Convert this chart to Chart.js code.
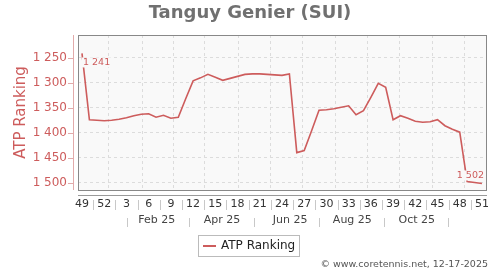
<!DOCTYPE html>
<html>
<head>
<meta charset="utf-8">
<script src="https://cdn.jsdelivr.net/npm/chart.js@4.4.1/dist/chart.umd.min.js"></script>
<style>
  html, body { margin: 0; padding: 0; background: #fff; }
  canvas { display: block; }
</style>
</head>
<body>
<canvas id="rankChart" width="500" height="270"></canvas>
<script>
// Weekly ATP ranking, week 49 of 2024 -> week 51 of 2025 (x = weeks since first point)
const weekIdx = [0, 1, 2, 3, 4, 5, 6, 7, 8, 9, 10, 11, 12, 13, 14, 15, 16, 17, 18, 19, 20,
    21, 22, 23, 24, 25, 26, 27, 28, 29, 30, 31, 32, 33, 34, 35, 36, 37, 38, 39, 40,
    41, 42, 43, 44, 45, 46, 47, 48, 49, 50, 51, 52, 53, 54];
const ranks = [1241, 1374, 1375, 1376, 1375, 1373, 1370, 1366, 1363, 1362, 1369, 1365, 1371, 1369, 1332,
    1296, 1290, 1283, 1289, 1295, 1291, 1287, 1283, 1282, 1282, 1283, 1284, 1285, 1282, 1440,
    1436, 1396, 1355, 1354, 1352, 1349, 1346, 1364, 1356, 1329, 1301, 1309, 1374, 1366, 1371,
    1377, 1379, 1378, 1374, 1386, 1393, 1399, 1498, 1500, 1502];

// Axis labels
const weekTickIdx = [0, 3, 6, 9, 12, 15, 18, 21, 24, 27, 30, 33, 36, 39, 42, 45, 48, 51, 54];
const weekTickLabels = ['49', '52', '3', '6', '9', '12', '15', '18', '21', '24', '27', '30', '33', '36', '39', '42', '45', '48', '51'];
const monthLabelIdx = [10.1, 18.9, 28.1, 36.5, 45.2];
const monthLabels = ['Feb 25', 'Apr 25', 'Jun 25', 'Aug 25', 'Oct 25'];
const monthSepIdx = [6.1, 14.4, 23.2, 32.0, 40.8, 49.4];
const monthGridIdx = [3.6, 8.2, 12.3, 16.6, 21.1, 25.4, 29.8, 34.2, 38.5, 42.8, 47.3, 51.6];
const rankTicks = [1250, 1300, 1350, 1400, 1450, 1500];

const FONT = 'DejaVu Sans';
const lineColor = '#cd5c5c';
const plotBg = '#f9f9f9';

function fmtRank(v) {
    return String(v).replace(/\B(?=(\d{3})+(?!\d))/g, ' ');
}

// Extra drawing: plot box, axis lines, separators, labels, legend
const decor = {
    id: 'decor',
    beforeDraw(chart) {
        const { ctx, chartArea: a } = chart;
        ctx.save();
        ctx.fillStyle = '#fff';
        ctx.fillRect(0, 0, chart.width, chart.height);
        ctx.fillStyle = plotBg;
        ctx.fillRect(a.left, a.top, a.right - a.left, a.bottom - a.top);
        ctx.restore();
    },
    afterDraw(chart) {
        const { ctx, chartArea: a } = chart;
        const xs = chart.scales.x;
        const ys = chart.scales.y;
        ctx.save();

        // plot border
        ctx.strokeStyle = '#888';
        ctx.lineWidth = 1;
        ctx.strokeRect(a.left + 0.5, a.top + 0.5, a.right - a.left - 1, a.bottom - a.top);

        // y axis line + tick marks
        ctx.strokeStyle = '#e2aaaa';
        ctx.beginPath();
        ctx.moveTo(a.left - 4.5, a.top);
        ctx.lineTo(a.left - 4.5, a.bottom);
        rankTicks.forEach(t => {
            const y = Math.round(ys.getPixelForValue(t)) + 0.5;
            ctx.moveTo(a.left - 10, y);
            ctx.lineTo(a.left - 4.5, y);
        });
        ctx.stroke();

        // x axis line
        ctx.strokeStyle = '#999';
        ctx.beginPath();
        ctx.moveTo(a.left, a.bottom + 5.5);
        ctx.lineTo(a.right, a.bottom + 5.5);
        ctx.stroke();

        // separators between week labels and month labels
        ctx.strokeStyle = '#c8c8c8';
        ctx.beginPath();
        for (let i = 0; i < weekTickIdx.length - 1; i++) {
            const x = Math.round(xs.getPixelForValue((weekTickIdx[i] + weekTickIdx[i + 1]) / 2)) + 0.5;
            ctx.moveTo(x, a.bottom + 10);
            ctx.lineTo(x, a.bottom + 20);
        }
        monthSepIdx.forEach(m => {
            const x = Math.round(xs.getPixelForValue(m)) + 0.5;
            ctx.moveTo(x, a.bottom + 28);
            ctx.lineTo(x, a.bottom + 37);
        });
        ctx.stroke();

        // first / last value labels
        ctx.font = '9.5px ' + FONT;
        ctx.textBaseline = 'middle';
        const drawValue = (i, align, dx, dy) => {
            const txt = fmtRank(ranks[i]);
            const px = xs.getPixelForValue(weekIdx[i]) + dx;
            const py = ys.getPixelForValue(ranks[i]) + dy;
            const w = ctx.measureText(txt).width;
            const left = align === 'left' ? px : px - w;
            ctx.fillStyle = plotBg;
            ctx.fillRect(left - 1, py - 5, w + 2, 10);
            ctx.fillStyle = lineColor;
            ctx.textAlign = align;
            ctx.fillText(txt, px, py);
        };
        drawValue(0, 'left', 1, 9);
        drawValue(ranks.length - 1, 'right', 2, -8);

        // title
        ctx.fillStyle = '#707070';
        ctx.font = 'bold 18px ' + FONT;
        ctx.textAlign = 'center';
        ctx.textBaseline = 'alphabetic';
        ctx.fillText('Tanguy Genier (SUI)', 250, 18);

        // legend
        const ds = chart.data.datasets[0];
        ctx.strokeStyle = '#bbb';
        ctx.lineWidth = 1;
        ctx.strokeRect(198.5, 235.5, 101, 21);
        ctx.strokeStyle = ds.borderColor;
        ctx.lineWidth = 2;
        ctx.beginPath();
        ctx.moveTo(203, 246);
        ctx.lineTo(216, 246);
        ctx.stroke();
        ctx.fillStyle = '#222';
        ctx.font = '12px ' + FONT;
        ctx.textAlign = 'left';
        ctx.textBaseline = 'middle';
        ctx.fillText(ds.label, 221, 246);

        // credit
        ctx.fillStyle = '#555';
        ctx.font = '9.5px ' + FONT;
        ctx.textAlign = 'right';
        ctx.fillText('\u00a9 www.coretennis.net, 12-17-2025', 488, 265);
        ctx.restore();
    }
};

const ctx = document.getElementById('rankChart').getContext('2d');
const chart = new Chart(ctx, {
    type: 'line',
    data: {
        datasets: [{
            label: 'ATP Ranking',
            data: weekIdx.map((w, i) => ({ x: w, y: ranks[i] })),
            borderColor: lineColor,
            borderWidth: 1.6,
            pointRadius: 0,
            tension: 0,
            fill: false
        }]
    },
    options: {
        responsive: false,
        animation: false,
        devicePixelRatio: 1,
        layout: { padding: { top: 35, right: 13, bottom: 40, left: 0 } },
        plugins: {
            legend: { display: false },
            title: { display: false },
            tooltip: { enabled: false }
        },
        scales: {
            // week numbers row (box 190..210)
            x: {
                type: 'linear',
                position: 'bottom',
                min: -0.54,
                max: 54.68,
                afterFit: s => { s.height = 20; },
                afterBuildTicks: s => { s.ticks = weekTickIdx.map(v => ({ value: v })); },
                ticks: {
                    autoSkip: false,
                    maxRotation: 0,
                    padding: 8,
                    color: '#333',
                    font: { family: FONT, size: 11 },
                    callback: (v, i) => weekTickLabels[i]
                },
                grid: { display: false, drawTicks: false },
                border: { display: false }
            },
            // month row (box 210..230)
            xm: {
                type: 'linear',
                position: 'bottom',
                min: -0.54,
                max: 54.68,
                afterFit: s => { s.height = 20; },
                afterBuildTicks: s => { s.ticks = monthLabelIdx.map(v => ({ value: v })); },
                ticks: {
                    autoSkip: false,
                    maxRotation: 0,
                    padding: 4,
                    color: '#444',
                    font: { family: FONT, size: 11 },
                    callback: (v, i) => monthLabels[i]
                },
                grid: { display: false, drawTicks: false },
                border: { display: false }
            },
            // monthly vertical grid lines
            xg: {
                type: 'linear',
                position: 'bottom',
                min: -0.54,
                max: 54.68,
                afterFit: s => { s.height = 0; },
                afterBuildTicks: s => { s.ticks = monthGridIdx.map(v => ({ value: v })); },
                ticks: { display: false },
                grid: { color: '#dcdcdc', drawTicks: false },
                border: { display: false, dash: [3, 3] }
            },
            y: {
                type: 'linear',
                reverse: true,
                min: 1204,
                max: 1515,
                afterFit: s => { s.width = 78; },
                afterBuildTicks: s => { s.ticks = rankTicks.map(v => ({ value: v })); },
                ticks: {
                    padding: 11,
                    color: lineColor,
                    font: { family: FONT, size: 12 },
                    callback: v => fmtRank(v)
                },
                grid: { color: '#dcdcdc', drawTicks: false },
                border: { display: false, dash: [3, 3] },
                title: {
                    display: true,
                    text: 'ATP Ranking',
                    color: lineColor,
                    font: { family: FONT, size: 15 },
                    padding: { top: 12, bottom: 0 }
                }
            }
        }
    },
    plugins: [decor]
});
</script>
</body>
</html>
